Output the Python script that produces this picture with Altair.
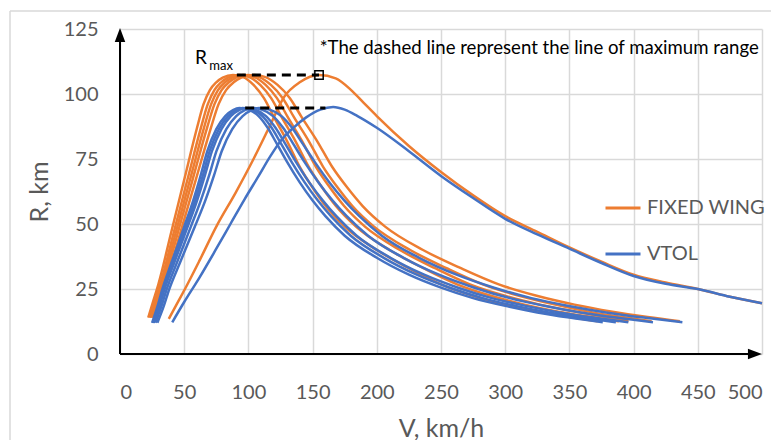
import altair as alt
import pandas as pd

# ---------------- data ----------------
# FIXED WING cluster: shared R values, one V list per curve
R_fw = [14, 20.5, 27, 47, 67, 87, 96, 101.5, 104.5, 106.3, 107.3, 106.5, 103.5, 98.5, 91, 82, 72, 64, 57, 49, 40, 33, 26.8, 22.4, 19, 16.3, 14.2, 12.6]
V_fw1 = [22, 26, 30, 40, 50, 60, 65, 70, 75, 80, 88, 96, 104, 112, 120, 130, 140, 150, 160, 175, 200, 225, 250, 275, 300, 325, 350, 372]
V_fw2 = [23.1, 27.3, 31.5, 42, 52.5, 63, 68.3, 73.5, 78.8, 84, 92.4, 100.8, 109.2, 117.6, 126, 136.5, 147, 157.5, 168, 183.8, 210, 236.3, 262.5, 288.8, 315, 341.3, 367.5, 388.5]
V_fw3 = [24, 28.3, 32.7, 43.6, 54.5, 65.4, 70.9, 76.3, 81.8, 87.2, 95.9, 104.6, 113.4, 122.1, 130.8, 141.7, 152.6, 163.5, 174.4, 190.8, 218, 245.3, 272.5, 299.8, 327, 354.3, 378, 396]
V_fw4 = [24.9, 29.4, 33.9, 45.2, 56.5, 67.8, 73.5, 79.1, 84.8, 90.4, 99.4, 108.5, 117.5, 126.6, 135.6, 146.9, 158.2, 169.5, 180.8, 197.8, 226, 254.3, 282.5, 310.8, 339, 365, 391, 414]
V_fw5 = [26, 30.7, 35.4, 47.2, 59, 70.8, 76.7, 82.6, 88.5, 94.4, 103.8, 113.3, 122.7, 132.2, 141.6, 153.4, 165.2, 177, 188.8, 206.5, 236, 265.5, 295, 324.5, 354, 383.5, 411, 436]

# FIXED WING far curve
V_fw6 = [38, 44, 50.6, 62, 75, 90, 104, 116, 128, 140, 155, 168, 180, 190, 200, 225, 250, 275, 300, 325, 350, 375, 400, 425, 450, 475, 500]
R_fw6 = [13.5, 19, 25, 36, 49, 62, 75, 87, 99, 104.5, 107.3, 106, 101.5, 96.5, 91.5, 80, 70, 61, 53, 47, 41, 35.5, 30.5, 27.5, 25, 22, 19.5]

# VTOL cluster: shared R values, one V list per curve
R_vt = [12, 18, 25, 35, 49, 59, 69, 78, 86.5, 91.5, 93.8, 94.6, 94, 91.5, 87, 81, 74, 66, 59, 53, 45.5, 37, 30.5, 25.5, 21.5, 18.5, 16, 14, 12.2]
V_vt1 = [25, 29, 33, 40, 50, 57, 63, 68, 75, 82, 88, 93, 100, 108, 115, 122, 130, 140, 150, 160, 175, 200, 225, 250, 275, 300, 325, 350, 376]
V_vt2 = [25.7, 29.8, 33.9, 41.1, 51.4, 58.5, 64.7, 69.8, 77, 84.2, 90.4, 95.5, 102.7, 110.9, 118.1, 125.3, 133.5, 143.8, 154.1, 164.3, 179.7, 205.4, 231.1, 256.8, 282.4, 308.1, 333.8, 359.5, 386.2]
V_vt3 = [26.3, 30.5, 34.7, 42.1, 52.7, 60, 66.3, 71.6, 79, 86.3, 92.7, 97.9, 105.3, 113.7, 121.1, 128.5, 136.9, 147.4, 158, 168.5, 184.3, 210.6, 236.9, 263.3, 289.6, 315.9, 342.2, 368.6, 395.9]
V_vt4 = [27.6, 32, 36.4, 44.2, 55.2, 62.9, 69.6, 75.1, 82.8, 90.5, 97.2, 102.7, 110.4, 119.2, 127, 134.7, 143.5, 154.6, 165.6, 176.6, 193.2, 220.8, 248.4, 276, 303.6, 331.2, 358.8, 386.4, 415.1]
V_vt5 = [29.1, 33.8, 38.4, 46.6, 58.3, 66.4, 73.4, 79.2, 87.4, 95.5, 102.5, 108.3, 116.5, 125.8, 134, 142.1, 151.5, 163.1, 174.8, 186.4, 203.9, 233, 262.1, 291.3, 320.4, 349.5, 378.6, 407.8, 438]

# VTOL far curve
V_vt6 = [40.7, 50, 62, 75, 86, 97, 108, 117, 126, 135, 145, 156, 166, 175, 185, 200, 225, 250, 275, 300, 325, 350, 375, 400, 425, 450, 475, 500]
R_vt6 = [12.2, 20, 29.5, 40.5, 50, 59.5, 68.5, 76, 82.5, 87, 91, 94, 95, 94, 91.5, 87, 78, 68.5, 60, 52, 46, 40.5, 35, 30, 27, 25, 22, 19.5]

# Lines of maximum range (dashed)
dash_names = ["fw", "fw", "vt", "vt"]
dash_V = [91, 155, 97.5, 160]
dash_R = [107.3, 107.3, 94.6, 94.6]
marker_V = [155]
marker_R = [107.3]

series_names = ["FIXED WING", "VTOL"]
series_colors = ["#ED7D31", "#4472C4"]

x_ticks = [0, 50, 100, 150, 200, 250, 300, 350, 400, 450, 500]
y_ticks = [0, 25, 50, 75, 100, 125]

note_text = "*The dashed line represent the line of maximum range"

# ---------------- tables ----------------
def build(curves, label):
    rows = []
    for name, vs, rs in curves:
        for i, (v, r) in enumerate(zip(vs, rs)):
            rows.append({"curve": name, "type": label, "V": v, "R": r, "i": i})
    return rows

fw_rows = build([
    ("fw1", V_fw1, R_fw), ("fw2", V_fw2, R_fw), ("fw3", V_fw3, R_fw),
    ("fw4", V_fw4, R_fw), ("fw5", V_fw5, R_fw), ("fw6", V_fw6, R_fw6)], series_names[0])
vt_rows = build([
    ("vt1", V_vt1, R_vt), ("vt2", V_vt2, R_vt), ("vt3", V_vt3, R_vt),
    ("vt4", V_vt4, R_vt), ("vt5", V_vt5, R_vt), ("vt6", V_vt6, R_vt6)], series_names[1])
df_fw = pd.DataFrame(fw_rows)
df_vt = pd.DataFrame(vt_rows)
df_dash = pd.DataFrame({"g": dash_names, "V": dash_V, "R": dash_R})
df_marker = pd.DataFrame({"V": marker_V, "R": marker_R})

FONT = "Lato"
GRAY = "#595959"

xscale = alt.Scale(domain=[0, 500], nice=False, zero=True)
yscale = alt.Scale(domain=[0, 125], nice=False, zero=True)
cscale = alt.Scale(domain=series_names, range=series_colors)

xaxis = alt.Axis(values=x_ticks, grid=True, gridColor="#d9d9d9", gridWidth=1.5,
                 domain=False, ticks=False, labelFontSize=20, labelColor=GRAY,
                 labelFont=FONT, labelPadding=28, title="V, km/h", titleFont=FONT,
                 titleFontSize=25, titleFontWeight="normal", titleColor=GRAY,
                 titlePadding=14)
yaxis = alt.Axis(values=y_ticks, grid=True, gridColor="#d9d9d9", gridWidth=1.5,
                 domain=False, ticks=False, labelFontSize=20, labelColor=GRAY,
                 labelFont=FONT, labelPadding=22, title="R, km", titleFont=FONT,
                 titleFontSize=25, titleFontWeight="normal", titleColor=GRAY,
                 titlePadding=11)

legend = alt.Legend(orient="none", legendX=484, legendY=160, title=None,
                    symbolType="stroke", symbolSize=1225, symbolStrokeWidth=3,
                    labelFontSize=20, labelColor=GRAY, labelFont=FONT,
                    labelOffset=5, rowPadding=17, direction="vertical")

fw_lines = alt.Chart(df_fw).mark_line(interpolate="monotone", strokeWidth=2.5).encode(
    x=alt.X("V:Q", scale=xscale, axis=xaxis),
    y=alt.Y("R:Q", scale=yscale, axis=yaxis),
    color=alt.Color("type:N", scale=cscale, legend=legend),
    detail="curve:N",
    order="i:Q",
)
vt_lines = alt.Chart(df_vt).mark_line(interpolate="monotone", strokeWidth=2.5).encode(
    x="V:Q", y="R:Q",
    color=alt.Color("type:N", scale=cscale, legend=legend),
    detail="curve:N",
    order="i:Q",
)

dashes = alt.Chart(df_dash).mark_line(color="black", strokeWidth=3, strokeDash=[9, 6]).encode(
    x="V:Q", y="R:Q", detail="g:N")

marker = alt.Chart(df_marker).mark_point(shape="square", filled=False, color="black",
                                          size=70, strokeWidth=1.5, opacity=1).encode(
    x="V:Q", y="R:Q")

# axes with arrows
axis_lines = pd.DataFrame({"V": [0, 0], "R": [0, 0], "V2": [0, 496], "R2": [123, 0]})
arrow_rules = alt.Chart(axis_lines).mark_rule(color="black", strokeWidth=2).encode(
    x="V:Q", y="R:Q", x2="V2:Q", y2="R2:Q")
up_head = alt.Chart(pd.DataFrame({"V": [0], "R": [122.7]})).mark_point(
    shape="M 0 -1 L 0.75 1 L -0.75 1 Z", filled=True, color="black", size=196, opacity=1
).encode(x="V:Q", y="R:Q")
right_head = alt.Chart(pd.DataFrame({"V": [494.5], "R": [0]})).mark_point(
    shape="M 1 0 L -1 0.75 L -1 -0.75 Z", filled=True, color="black", size=196, opacity=1
).encode(x="V:Q", y="R:Q")

# annotations
rmax_R = alt.Chart(pd.DataFrame({"V": [58.5], "R": [111.5], "t": ["R"]})).mark_text(
    align="left", baseline="alphabetic", fontSize=19, font=FONT, color="black"
).encode(x="V:Q", y="R:Q", text="t:N")
rmax_sub = alt.Chart(pd.DataFrame({"V": [69.5], "R": [109.3], "t": ["max"]})).mark_text(
    align="left", baseline="alphabetic", fontSize=13, font=FONT, color="black"
).encode(x="V:Q", y="R:Q", text="t:N")
note = alt.Chart(pd.DataFrame({"V": [155.5], "R": [115.5], "t": [note_text]})).mark_text(
    align="left", baseline="alphabetic", fontSize=18.6, font=FONT, color="black"
).encode(x="V:Q", y="R:Q", text="t:N")

# outer chart frame (decoration)
frame = alt.Chart(pd.DataFrame({"a": [0]})).mark_rule(color="#d9d9d9", strokeWidth=1.5).encode(
    x=alt.value(-110), x2=alt.value(700), y=alt.value(-18))
frame_left = alt.Chart(pd.DataFrame({"a": [0]})).mark_rule(color="#d9d9d9", strokeWidth=1.5).encode(
    x=alt.value(-110), y=alt.value(-18), y2=alt.value(430))

chart = alt.layer(
    frame, frame_left, fw_lines, vt_lines, dashes, marker, arrow_rules, up_head, right_head,
    rmax_R, rmax_sub, note
).properties(
    width=642, height=325,
    autosize=alt.AutoSizeParams(type="none"),
    padding={"left": 112, "top": 21, "right": 9, "bottom": 86},
    background="white",
).configure_view(strokeWidth=0)

chart.save("out.html", embed_options={"renderer": "svg", "actions": False})
